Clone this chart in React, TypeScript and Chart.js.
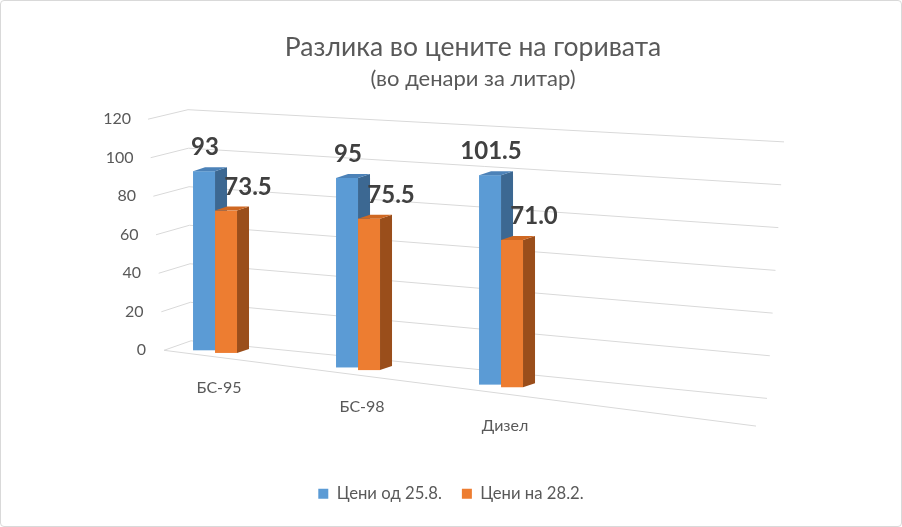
import React, { useEffect, useRef } from 'react';
import { Chart, registerables } from 'chart.js';

Chart.register(...registerables);

const categories = ['БС-95', 'БС-98', 'Дизел'];
const pricesAug = [93, 95, 101.5];
const pricesFeb = [73.5, 75.5, 71.0];
const seriesNames = ['Цени од 25.8.', 'Цени на 28.2.'];
const yTicks = [0, 20, 40, 60, 80, 100, 120];

const FONT = "Lato, 'Noto Sans', sans-serif";
const fronts = ['#5b9bd5', '#ed7d31'];
const tops = ['#4c82b8', '#cf6822'];
const sides = ['#3c6892', '#9a4e1b'];
const DX = 12;
const DY = -4;
// fake perspective: floor drops to the right, bars grow a little
const K = 0.12;
const P = 0.00025;
// the plot area starts at the wall, this far right of the chart area's left edge
const WALL = 107;

// draws the walls, the 3D bars, the tick texts and the value labels
const fake3d = {
  id: 'fake3d',
  beforeDatasetDraw() {
    return false;
  },
  afterDatasetsDraw(chart: any) {
    const ctx = chart.ctx;
    const ys = chart.scales.y;
    const xs = chart.scales.x;
    const left = chart.chartArea.left + WALL;
    const x0 = chart.getDatasetMeta(0).data[0].x;
    ctx.save();

    // grid: short left wall line, then the back wall line
    ctx.strokeStyle = '#d9d9d9';
    ctx.lineWidth = 1;
    yTicks.forEach((v) => {
      const t = v / 120;
      const yl = ys.getPixelForValue(v);
      const xl = left + 8 - 16 * t;
      const xc = left + 35 - 3 * t;
      const yc = yl - 9.5;
      const xr = left + 611 + 17 * t;
      const yr = yc + (0.1 - 0.046 * t) * (xr - xc);
      ctx.beginPath();
      ctx.moveTo(xl, yl);
      ctx.lineTo(xc, yc);
      ctx.lineTo(xr, yr);
      ctx.stroke();
    });
    const y0 = ys.getPixelForValue(0);
    ctx.beginPath();
    ctx.moveTo(left + 8, y0);
    ctx.lineTo(left + 600, y0 + 0.128 * 592);
    ctx.stroke();

    // y tick texts, following the slanted left wall
    ctx.fillStyle = '#595959';
    ctx.font = `16px ${FONT}`;
    ctx.textAlign = 'right';
    ctx.textBaseline = 'middle';
    yTicks.forEach((v) => {
      const t = v / 120;
      ctx.fillText(String(v), left - 10 - 15 * t, ys.getPixelForValue(v));
    });

    // category texts along the floor
    ctx.textAlign = 'center';
    categories.forEach((c, i) => {
      const x = xs.getPixelForValue(i);
      ctx.fillText(c, x + 4, y0 + 36 + 0.134 * (x - x0));
    });

    // bars
    const boxes: any[] = [];
    chart.data.datasets.forEach((ds: any, di: number) => {
      const meta = chart.getDatasetMeta(di);
      meta.data.forEach((bar: any, i: number) => {
        const { x, y, base, width } = bar.getProps(['x', 'y', 'base', 'width'], true);
        const b = base + K * (x - x0);
        const top = b - (base - y) * (1 + P * (x - x0));
        boxes.push({ di, i, x, l: x - width / 2, r: x + width / 2, top, b });
      });
    });
    categories.forEach((_, i) => {
      boxes
        .filter((bx) => bx.i === i)
        .sort((p, q) => p.di - q.di)
        .forEach((bx) => {
          const { di, l, r, top, b } = bx;
          ctx.fillStyle = fronts[di];
          ctx.fillRect(l, top, r - l, b - top);
          ctx.fillStyle = sides[di];
          ctx.beginPath();
          ctx.moveTo(r, top);
          ctx.lineTo(r + DX, top + DY);
          ctx.lineTo(r + DX, b + DY);
          ctx.lineTo(r, b);
          ctx.closePath();
          ctx.fill();
          ctx.fillStyle = tops[di];
          ctx.beginPath();
          ctx.moveTo(l, top);
          ctx.lineTo(l + DX, top + DY);
          ctx.lineTo(r + DX, top + DY);
          ctx.lineTo(r, top);
          ctx.closePath();
          ctx.fill();
        });
    });

    // value labels
    ctx.font = `bold 24px ${FONT}`;
    ctx.fillStyle = '#404040';
    ctx.textAlign = 'center';
    ctx.textBaseline = 'alphabetic';
    boxes.forEach((bx) => {
      const v = chart.data.datasets[bx.di].data[bx.i].y;
      const txt = bx.di === 0 ? String(v) : v.toFixed(1);
      ctx.fillText(txt, bx.x + (bx.di === 0 ? 1 : 22), bx.top - 16);
    });
    ctx.restore();
  },
};

export default function App() {
  const canvasRef = useRef<HTMLCanvasElement>(null);

  useEffect(() => {
    document.body.style.margin = '0';
    if (!canvasRef.current) return;
    const chart = new Chart(canvasRef.current, {
      type: 'bar',
      data: {
        datasets: [
          {
            label: seriesNames[0],
            data: pricesAug.map((v, i) => ({ x: i, y: v })),
            backgroundColor: fronts[0],
            borderWidth: 0,
          },
          {
            label: seriesNames[1],
            data: pricesFeb.map((v, i) => ({ x: i, y: v })),
            backgroundColor: fronts[1],
            borderWidth: 0,
          },
        ],
      },
      options: {
        animation: false,
        responsive: true,
        maintainAspectRatio: false,
        datasets: { bar: { categoryPercentage: 0.4, barPercentage: 1 } },
        layout: { padding: { left: 4, right: 4, bottom: 14 } },
        plugins: {
          title: {
            display: true,
            fullSize: false,
            text: 'Разлика во цените на горивата',
            color: '#595959',
            font: { family: FONT, size: 26.5, weight: 'normal' },
            padding: { top: 31, bottom: 2 },
          },
          subtitle: {
            display: true,
            fullSize: false,
            text: '(во денари за литар)',
            color: '#595959',
            font: { family: FONT, size: 22 },
            padding: { top: 0, bottom: 27 },
          },
          legend: {
            position: 'bottom',
            labels: {
              color: '#595959',
              font: { family: FONT, size: 16.7 },
              boxWidth: 10,
              boxHeight: 10,
              padding: 20,
            },
          },
          tooltip: { enabled: false },
        },
        scales: {
          x: {
            type: 'linear',
            offset: false,
            min: -1.161,
            max: 4.769,
            grid: { display: false },
            border: { display: false },
            ticks: { display: false },
            afterFit: (axis: any) => {
              axis.height = 115;
            },
          },
          y: {
            min: 0,
            max: 120,
            grid: { display: false },
            border: { display: false },
            ticks: { display: false },
            afterFit: (axis: any) => {
              axis.width = 44;
            },
          },
        },
      },
      plugins: [fake3d],
    } as any);
    return () => chart.destroy();
  }, []);

  return (
    <div
      style={{
        position: 'relative',
        width: 902,
        height: 527,
        boxSizing: 'border-box',
        border: '1px solid #d9d9d9',
        borderRadius: 4,
        background: '#fff',
      }}
    >
      <canvas ref={canvasRef} />
    </div>
  );
}
